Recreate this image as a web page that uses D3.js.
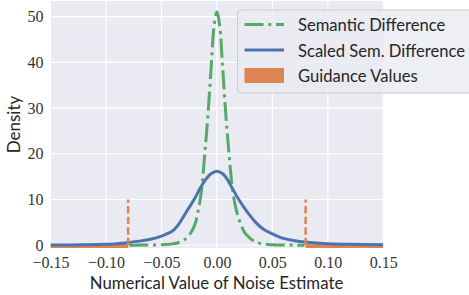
<!DOCTYPE html>
<html>
<head>
<meta charset="utf-8">
<script src="https://cdn.jsdelivr.net/npm/d3@7"></script>
<style>
  html, body { margin: 0; padding: 0; background: #ffffff; }
  svg { display: block; }
</style>
</head>
<body>
<svg id="chart" width="469" height="295"></svg>
<script>
// ---------- data ----------
const xTicks = [-0.15, -0.10, -0.05, 0.00, 0.05, 0.10, 0.15];
const yTicks = [0, 10, 20, 30, 40, 50];

const seriesNames = ["Semantic Difference", "Scaled Sem. Difference", "Guidance Values"];

// Semantic Difference (green, dash-dot)
const semX = [-0.079, -0.07, -0.06, -0.05, -0.04, -0.035, -0.03, -0.025, -0.02, -0.017, -0.014, -0.011, -0.008, -0.005, -0.0025, 0,
              0.0025, 0.005, 0.008, 0.011, 0.014, 0.017, 0.02, 0.025, 0.03, 0.035, 0.04, 0.05, 0.06, 0.07, 0.079];
const semY = [0.01, 0.03, 0.06, 0.12, 0.3, 0.55, 1.1, 2.2, 4.4, 7.4, 11.8, 19.8, 28.7, 39.6, 48.0, 51.0,
              48.0, 39.6, 28.7, 19.8, 12.4, 8.2, 5.6, 2.8, 1.5, 0.7, 0.35, 0.12, 0.05, 0.03, 0.01];

// Scaled Sem. Difference (blue, solid)
const scaledX = [-0.15, -0.12, -0.10, -0.09, -0.08, -0.07, -0.06, -0.05, -0.04, -0.035, -0.0275, -0.02, -0.015, -0.01, -0.005, 0,
                 0.005, 0.01, 0.0135, 0.02, 0.027, 0.035, 0.042, 0.05, 0.06, 0.07, 0.08, 0.09, 0.10, 0.12, 0.15];
const scaledY = [0.05, 0.1, 0.2, 0.35, 0.6, 0.9, 1.3, 2.0, 3.1, 4.4, 7.3, 10.2, 12.5, 14.4, 15.7, 16.2,
                 15.7, 14.2, 12.6, 9.9, 7.4, 5.0, 3.5, 2.5, 1.5, 1.0, 0.7, 0.5, 0.35, 0.2, 0.1];

// Guidance Values (orange): threshold markers and filled tails
const guideThresholds = [-0.08, 0.08];
const guideMarkerHeight = 10;
const guideLeftX = [-0.15, -0.08];
const guideLeftY = [0.15, 0.25];
const guideRightX = [0.08, 0.15];
const guideRightY = [0.25, 0.1];

// ---------- layout ----------
const svg = d3.select("#chart");
const plot = { left: 50.5, right: 383.3, top: 1, bottom: 248 };

const colors = { green: "#55A868", blue: "#4C72B0", orange: "#DD8452", bg: "#EAEAF2" };

const x = d3.scaleLinear().domain([-0.15, 0.15]).range([plot.left, plot.right]);
const y = d3.scaleLinear().domain([-0.6, 53.4]).range([plot.bottom, plot.top]);

// background
svg.append("rect")
  .attr("x", plot.left).attr("y", plot.top)
  .attr("width", plot.right - plot.left).attr("height", plot.bottom - plot.top)
  .attr("fill", colors.bg);

// grid
const grid = svg.append("g");
grid.selectAll("line.vx").data(xTicks).join("line")
  .attr("x1", d => x(d)).attr("x2", d => x(d))
  .attr("y1", plot.top).attr("y2", plot.bottom)
  .attr("stroke", "#ffffff").attr("stroke-width", 1.2);
grid.selectAll("line.hy").data(yTicks).join("line")
  .attr("y1", d => y(d)).attr("y2", d => y(d))
  .attr("x1", plot.left).attr("x2", plot.right)
  .attr("stroke", "#ffffff").attr("stroke-width", 1.2);

svg.append("clipPath").attr("id", "clip")
  .append("rect").attr("x", plot.left).attr("y", plot.top)
  .attr("width", plot.right - plot.left).attr("height", plot.bottom - plot.top);

const g = svg.append("g").attr("clip-path", "url(#clip)");

// orange filled tails
const area = d3.area().x(d => x(d[0])).y0(y(-0.6)).y1(d => y(d[1]));
[d3.zip(guideLeftX, guideLeftY), d3.zip(guideRightX, guideRightY)].forEach(pts => {
  g.append("path").datum(pts).attr("d", area).attr("fill", colors.orange);
});

const line = d3.line().x(d => x(d[0])).y(d => y(d[1])).curve(d3.curveCatmullRom.alpha(0.5));

// green
g.append("path").datum(d3.zip(semX, semY))
  .attr("d", line).attr("fill", "none")
  .attr("stroke", colors.green).attr("stroke-width", 3)
  .attr("stroke-dasharray", "19,4.8,3,4.8");

// blue
g.append("path").datum(d3.zip(scaledX, scaledY))
  .attr("d", line).attr("fill", "none")
  .attr("stroke", colors.blue).attr("stroke-width", 3)
  .attr("stroke-linejoin", "round");

// orange dashed threshold markers
g.selectAll("line.thr").data(guideThresholds).join("line")
  .attr("x1", d => x(d)).attr("x2", d => x(d))
  .attr("y1", y(0)).attr("y2", y(guideMarkerHeight))
  .attr("stroke", colors.orange).attr("stroke-width", 2.5)
  .attr("stroke-dasharray", "7.4,3.2");

// axes
const fmt = d3.format(".2f");
const xAxis = svg.append("g").attr("transform", `translate(0,${plot.bottom})`)
  .call(d3.axisBottom(x).tickValues(xTicks).tickFormat(fmt).tickSize(0).tickPadding(9));
const yAxis = svg.append("g").attr("transform", `translate(${plot.left},0)`)
  .call(d3.axisLeft(y).tickValues(yTicks).tickFormat(d3.format("d")).tickSize(0).tickPadding(7));
[xAxis, yAxis].forEach(a => {
  a.select(".domain").remove();
  a.selectAll("text")
    .attr("font-family", "'Liberation Serif', 'DejaVu Serif', serif")
    .attr("font-size", 16).attr("fill", "#333333");
});

// axis labels
svg.append("text")
  .attr("x", 216.5).attr("y", 289)
  .attr("text-anchor", "middle")
  .attr("font-family", "Lato, 'Open Sans', sans-serif").attr("font-size", 16.8)
  .attr("fill", "#262626")
  .text("Numerical Value of Noise Estimate");

svg.append("text")
  .attr("transform", `translate(20,${(plot.top + plot.bottom) / 2}) rotate(-90)`)
  .attr("text-anchor", "middle")
  .attr("font-family", "Lato, 'Open Sans', sans-serif").attr("font-size", 17)
  .attr("fill", "#262626")
  .text("Density");

// legend
const lg = svg.append("g");
lg.append("rect")
  .attr("x", 237.5).attr("y", 10).attr("width", 260).attr("height", 83)
  .attr("rx", 4).attr("ry", 4)
  .attr("fill", colors.bg).attr("fill-opacity", 0.8)
  .attr("stroke", "#cccccc").attr("stroke-width", 1);

const rowY = [24.5, 50, 75.5];
lg.append("line").attr("x1", 244.5).attr("x2", 284).attr("y1", rowY[0]).attr("y2", rowY[0])
  .attr("stroke", colors.green).attr("stroke-width", 3).attr("stroke-dasharray", "19,4.8,3,4.8");
lg.append("line").attr("x1", 244.5).attr("x2", 284).attr("y1", rowY[1]).attr("y2", rowY[1])
  .attr("stroke", colors.blue).attr("stroke-width", 3);
lg.append("rect").attr("x", 244.5).attr("y", rowY[2] - 7.5).attr("width", 39.5).attr("height", 15)
  .attr("fill", colors.orange);

lg.selectAll("text.lbl").data(seriesNames).join("text")
  .attr("x", 298).attr("y", (d, i) => rowY[i] + 6.5)
  .attr("font-family", "Lato, 'Open Sans', sans-serif").attr("font-size", 16.6)
  .attr("fill", "#262626")
  .text(d => d);
</script>
</body>
</html>
